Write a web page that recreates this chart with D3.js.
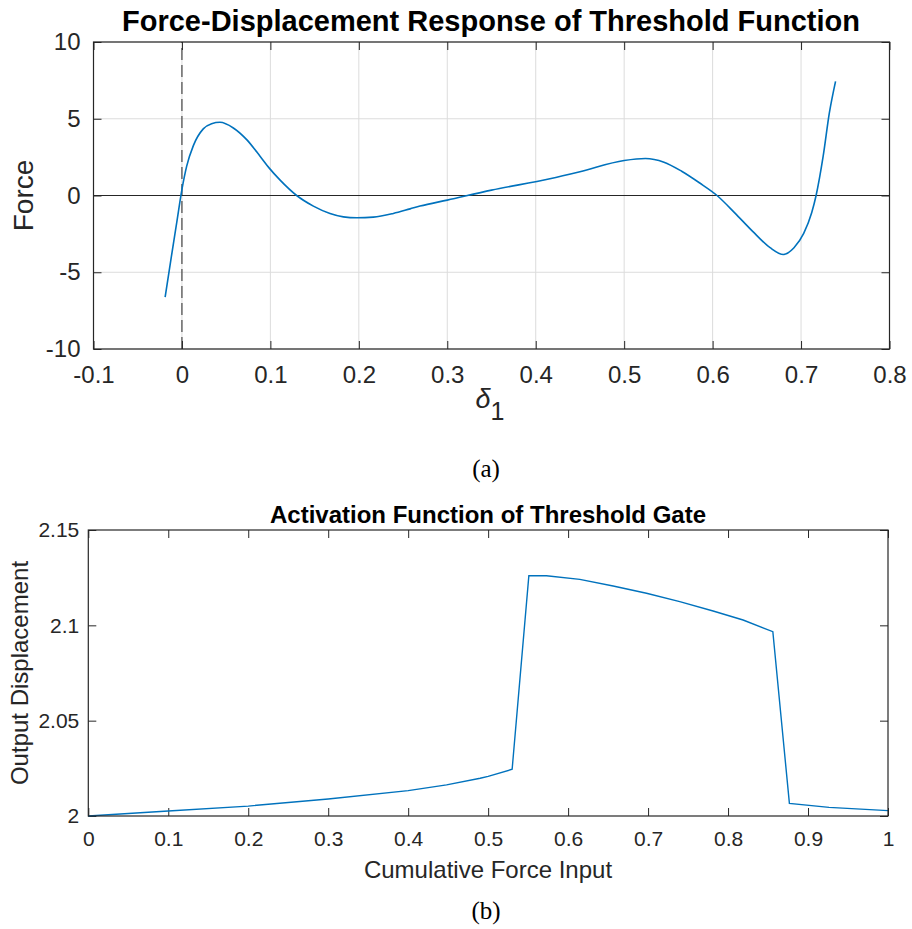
<!DOCTYPE html>
<html>
<head>
<meta charset="utf-8">
<script src="https://cdn.jsdelivr.net/npm/d3@7"></script>
<style>
  body { margin: 0; background: #fff; }
  text { font-family: "Liberation Sans", Arial, sans-serif; fill: #262626; }
</style>
</head>
<body>
<div id="chart"></div>
<script>
// top chart data: force vs displacement delta_1
var delta = [-0.019, -0.012, -0.006, 0, 0.0053, 0.0129, 0.0241, 0.0335, 0.043, 0.0581, 0.0732, 0.0883, 0.0985, 0.111, 0.1297, 0.1486, 0.1674, 0.1825, 0.1976, 0.2164, 0.239, 0.258, 0.2692, 0.3, 0.35, 0.416, 0.45, 0.5, 0.524, 0.545, 0.565, 0.585, 0.605, 0.625, 0.645, 0.665, 0.68, 0.692, 0.703, 0.712, 0.717, 0.725, 0.732, 0.739];
var force = [-6.62, -4.0, -1.8, 0.4, 1.9, 3.25, 4.34, 4.68, 4.77, 4.4, 3.64, 2.56, 1.8, 1.0, 0, -0.69, -1.17, -1.39, -1.45, -1.41, -1.17, -0.87, -0.69, -0.3, 0.35, 1.09, 1.55, 2.28, 2.41, 2.17, 1.58, 0.83, 0, -1.13, -2.32, -3.4, -3.84, -3.4, -2.47, -1.13, 0, 2.56, 5.38, 7.44];
var topXTicks = [-0.1, 0, 0.1, 0.2, 0.3, 0.4, 0.5, 0.6, 0.7, 0.8];
var topYTicks = [-10, -5, 0, 5, 10];

// bottom chart data: activation function
var forceIn = [0, 0.1, 0.2, 0.3, 0.4, 0.448, 0.49, 0.5, 0.53, 0.5509, 0.5729, 0.6146, 0.6563, 0.698, 0.7396, 0.7813, 0.8188, 0.856, 0.8767, 0.9263, 1.0];
var dispOut = [2.0, 2.0026, 2.0052, 2.0089, 2.0133, 2.0163, 2.0198, 2.0208, 2.0245, 2.126, 2.126, 2.1241, 2.1206, 2.1168, 2.1124, 2.1075, 2.1028, 2.0967, 2.0066, 2.0045, 2.0028];
var botXTicks = [0, 0.1, 0.2, 0.3, 0.4, 0.5, 0.6, 0.7, 0.8, 0.9, 1];
var botYTicks = [2, 2.05, 2.1, 2.15];

var W = 912, H = 929;
var axisColor = "#262626", lineColor = "#0072BD", gridColor = "#dcdcdc";
var fmt = d => String(d);

var svg = d3.select("#chart").append("svg")
  .attr("width", W).attr("height", H);

// ---------- top chart ----------
var x1 = d3.scaleLinear().domain([-0.1, 0.8]).range([93.5, 889.5]);
var y1 = d3.scaleLinear().domain([-10, 10]).range([349, 42]);

var g1 = svg.append("g");

// grid
g1.selectAll(".vgrid").data(topXTicks).enter().append("line")
  .attr("x1", d => x1(d)).attr("x2", d => x1(d))
  .attr("y1", y1(-10)).attr("y2", y1(10))
  .attr("stroke", gridColor).attr("stroke-width", 1);
g1.selectAll(".hgrid").data(topYTicks).enter().append("line")
  .attr("x1", x1(-0.1)).attr("x2", x1(0.8))
  .attr("y1", d => y1(d)).attr("y2", d => y1(d))
  .attr("stroke", gridColor).attr("stroke-width", 1);

// zero lines
g1.append("line")
  .attr("x1", x1(-0.1)).attr("x2", x1(0.8))
  .attr("y1", y1(0)).attr("y2", y1(0))
  .attr("stroke", "#262626").attr("stroke-width", 1);
g1.append("line")
  .attr("x1", x1(0)).attr("x2", x1(0))
  .attr("y1", y1(-10)).attr("y2", y1(10))
  .attr("stroke", "#262626").attr("stroke-width", 1)
  .attr("stroke-dasharray", "12,5");

// axes (ticks inward on all four sides)
g1.append("g").attr("transform", "translate(0," + y1(-10) + ")")
  .call(d3.axisBottom(x1).tickValues(topXTicks).tickSizeInner(-8).tickSizeOuter(0).tickPadding(17).tickFormat(fmt));
g1.append("g").attr("transform", "translate(0," + y1(10) + ")")
  .call(d3.axisTop(x1).tickValues(topXTicks).tickSizeInner(-8).tickSizeOuter(0).tickFormat(""));
g1.append("g").attr("transform", "translate(" + x1(-0.1) + ",0)")
  .call(d3.axisLeft(y1).tickValues(topYTicks).tickSizeInner(-8).tickSizeOuter(0).tickPadding(13).tickFormat(fmt));
g1.append("g").attr("transform", "translate(" + x1(0.8) + ",0)")
  .call(d3.axisRight(y1).tickValues(topYTicks).tickSizeInner(-8).tickSizeOuter(0).tickFormat(""));

g1.selectAll(".tick text").style("font-size", "24px").style("fill", axisColor);

// the curve
g1.append("path")
  .datum(delta.map((d, i) => [d, force[i]]))
  .attr("fill", "none").attr("stroke", lineColor).attr("stroke-width", 1.6)
  .attr("d", d3.line().x(d => x1(d[0])).y(d => y1(d[1])).curve(d3.curveMonotoneX));

// box
g1.append("rect")
  .attr("x", x1(-0.1)).attr("y", y1(10))
  .attr("width", x1(0.8) - x1(-0.1)).attr("height", y1(-10) - y1(10))
  .attr("fill", "none").attr("stroke", axisColor).attr("stroke-width", 1.2);

// titles and labels
g1.append("text").attr("x", 491).attr("y", 31).attr("text-anchor", "middle")
  .style("font-size", "29px").style("font-weight", "bold").style("fill", "#000")
  .text("Force-Displacement Response of Threshold Function");
g1.append("text").attr("transform", "translate(33," + y1(0) + ") rotate(-90)")
  .attr("text-anchor", "middle").style("font-size", "28px")
  .text("Force");
var dl = g1.append("text").attr("x", 490).attr("y", 408).attr("text-anchor", "middle")
  .style("font-size", "27px");
dl.append("tspan").style("font-style", "italic").text("δ");
dl.append("tspan").attr("dy", 12).style("font-size", "25px").text("1");
g1.append("text").attr("x", 486).attr("y", 477).attr("text-anchor", "middle")
  .style("font-family", "'Liberation Serif', serif").style("font-size", "25px").style("fill", "#000")
  .text("(a)");

// ---------- bottom chart ----------
var x2 = d3.scaleLinear().domain([0, 1]).range([88.3, 888]);
var y2 = d3.scaleLinear().domain([2, 2.15]).range([816, 530]);

var g2 = svg.append("g");

g2.append("g").attr("transform", "translate(0," + y2(2) + ")")
  .call(d3.axisBottom(x2).tickValues(botXTicks).tickSizeInner(-8).tickSizeOuter(0).tickPadding(15).tickFormat(fmt));
g2.append("g").attr("transform", "translate(0," + y2(2.15) + ")")
  .call(d3.axisTop(x2).tickValues(botXTicks).tickSizeInner(-8).tickSizeOuter(0).tickFormat(""));
g2.append("g").attr("transform", "translate(" + x2(0) + ",0)")
  .call(d3.axisLeft(y2).tickValues(botYTicks).tickSizeInner(-8).tickSizeOuter(0).tickPadding(9).tickFormat(fmt));
g2.append("g").attr("transform", "translate(" + x2(1) + ",0)")
  .call(d3.axisRight(y2).tickValues(botYTicks).tickSizeInner(-8).tickSizeOuter(0).tickFormat(""));

g2.selectAll(".tick text").style("font-size", "21px").style("fill", axisColor);

g2.append("path")
  .datum(forceIn.map((d, i) => [d, dispOut[i]]))
  .attr("fill", "none").attr("stroke", lineColor).attr("stroke-width", 1.4)
  .attr("d", d3.line().x(d => x2(d[0])).y(d => y2(d[1])));

g2.append("rect")
  .attr("x", x2(0)).attr("y", y2(2.15))
  .attr("width", x2(1) - x2(0)).attr("height", y2(2) - y2(2.15))
  .attr("fill", "none").attr("stroke", axisColor).attr("stroke-width", 1.2);

g2.append("text").attr("x", 488).attr("y", 523).attr("text-anchor", "middle")
  .style("font-size", "24px").style("font-weight", "bold").style("fill", "#000")
  .text("Activation Function of Threshold Gate");
g2.append("text").attr("transform", "translate(28," + y2(2.075) + ") rotate(-90)")
  .attr("text-anchor", "middle").style("font-size", "24px")
  .text("Output Displacement");
g2.append("text").attr("x", 488).attr("y", 878).attr("text-anchor", "middle")
  .style("font-size", "24px")
  .text("Cumulative Force Input");
g2.append("text").attr("x", 486).attr("y", 919).attr("text-anchor", "middle")
  .style("font-family", "'Liberation Serif', serif").style("font-size", "25px").style("fill", "#000")
  .text("(b)");

svg.selectAll(".domain").remove();
svg.selectAll(".tick line").attr("stroke", axisColor);
</script>
</body>
</html>
